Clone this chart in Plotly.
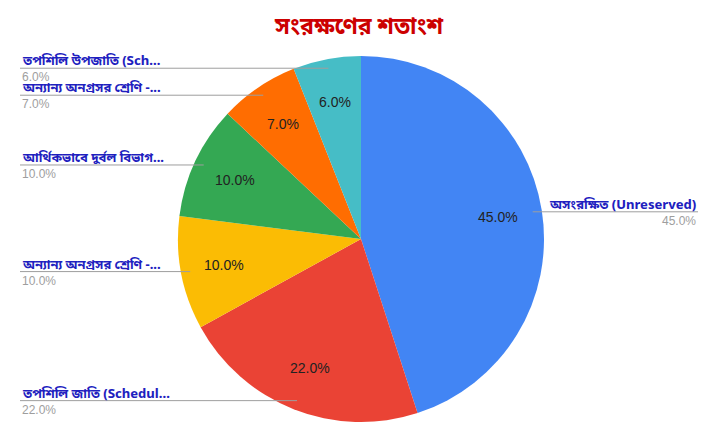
import numpy as np
import plotly.graph_objects as go

# data
names = ["অসংরক্ষিত (Unreserved)",
         "তপশিলি জাতি (Scheduled Caste)",
         "অন্যান্য অনগ্রসর শ্রেণি - ক (OBC-A)",
         "আর্থিকভাবে দুর্বল বিভাগ (EWS)",
         "অন্যান্য অনগ্রসর শ্রেণি - খ (OBC-B)",
         "তপশিলি উপজাতি (Scheduled Tribe)"]
short_names = ["অসংরক্ষিত (Unreserved)",
               "তপশিলি জাতি (Schedul...",
               "অন্যান্য অনগ্রসর শ্রেণি -...",
               "আর্থিকভাবে দুর্বল বিভাগ...",
               "অন্যান্য অনগ্রসর শ্রেণি -...",
               "তপশিলি উপজাতি (Sch..."]
values = [45, 22, 10, 10, 7, 6]
colors = ["#4285f4", "#ea4335", "#fbbc04", "#34a853", "#ff6d01", "#46bdc6"]

W, H = 717, 439
cx, cy, R = 361, 239, 183
FONT = "Noto Sans Bengali, Noto Sans, Roboto, Arial, sans-serif"
NUM_FONT = "Liberation Sans, Arial, sans-serif"

fig = go.Figure()

fig.add_trace(go.Pie(
    labels=names, values=values, sort=False, direction="clockwise",
    rotation=0, marker=dict(colors=colors, line=dict(width=0)),
    textinfo="none", hoverinfo="label+percent",
    domain=dict(x=[(cx - R) / W, (cx + R) / W],
                y=[1 - (cy + R) / H, 1 - (cy - R) / H]),
    showlegend=False,
))

# slice mid angles (clockwise from 12 o'clock)
vals = np.array(values, dtype=float)
frac = vals / vals.sum()
mid = (np.cumsum(frac) - frac / 2) * 2 * np.pi

annotations = []
shapes = []
dot_x, dot_y = [], []
for i, lab in enumerate(short_names):
    a = mid[i]
    # percentage inside the slice
    tx = cx + 0.76 * R * np.sin(a)
    ty = cy - 0.76 * R * np.cos(a)
    annotations.append(dict(x=tx, y=ty, xref="x", yref="y", text=f"{frac[i]*100:.1f}%",
                            showarrow=False, font=dict(size=14, color="#222222", family=NUM_FONT)))
    # leader line
    px = cx + 0.95 * R * np.sin(a)
    py = cy - 0.95 * R * np.cos(a)
    dot_x.append(px)
    dot_y.append(py)
    right = np.sin(a) > 0
    x_end = 698 if right else 20
    shapes.append(dict(type="line", xref="x", yref="y", x0=px, y0=py, x1=x_end, y1=py,
                       line=dict(color="#9e9e9e", width=1)))
    anchor = "right" if right else "left"
    annotations.append(dict(x=x_end, y=py + 4, xref="x", yref="y", text=f"<b>{lab}</b>",
                            xanchor=anchor, yanchor="bottom", showarrow=False,
                            font=dict(size=13, color="#1f1fbf", family=FONT)))
    annotations.append(dict(x=x_end, y=py, xref="x", yref="y", text=f"{frac[i]*100:.1f}%",
                            xanchor=anchor, yanchor="top", showarrow=False,
                            font=dict(size=12, color="#9e9e9e", family=NUM_FONT)))

fig.add_trace(go.Scatter(x=dot_x, y=dot_y, mode="markers", hoverinfo="skip",
                         marker=dict(size=4, color="#b0b0b0"), showlegend=False))

annotations.append(dict(x=0.5, y=28, xref="paper", yref="y", text="<b>সংরক্ষণের শতাংশ</b>",
                        showarrow=False, font=dict(size=23, color="#cc0000", family=FONT)))

fig.update_layout(
    width=W, height=H,
    margin=dict(l=0, r=0, t=0, b=0),
    paper_bgcolor="white", plot_bgcolor="rgba(0,0,0,0)",
    xaxis=dict(range=[0, W], visible=False, fixedrange=True),
    yaxis=dict(range=[H, 0], visible=False, fixedrange=True),
    annotations=annotations, shapes=shapes,
)

fig.write_html("out.html", config={"displayModeBar": False},
               post_script="document.body.style.margin='0';")
